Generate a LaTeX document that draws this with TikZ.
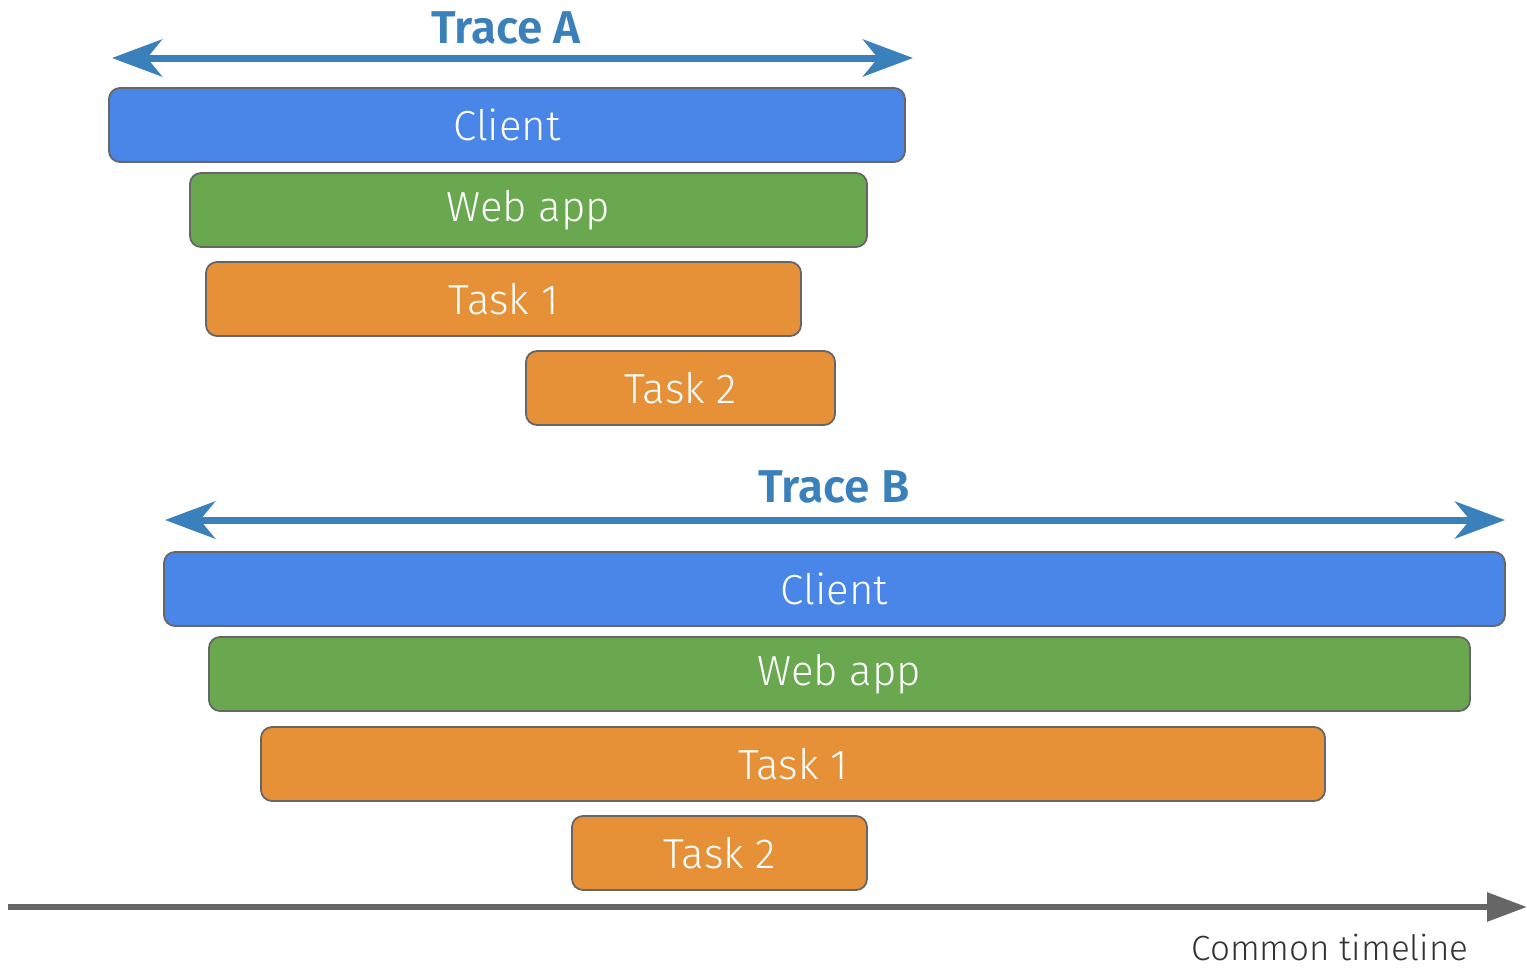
\documentclass[tikz,border=0pt]{standalone}
\usepackage{fontspec}
\setmainfont{Fira Sans Light}[BoldFont={Fira Sans SemiBold}]
\usetikzlibrary{arrows.meta}
\definecolor{clientblue}{HTML}{4A86E8}
\definecolor{webgreen}{HTML}{6AA84F}
\definecolor{taskorange}{HTML}{E69138}
\definecolor{traceblue}{HTML}{3A80BA}
\definecolor{edgegray}{HTML}{666666}
\tikzset{
  span/.style={draw=edgegray, line width=1.8pt, rounded corners=11pt,
    anchor=north west, inner sep=0pt, outer sep=0pt,
    minimum height=74pt},
  spanlabel/.style={text=white, font=\fontsize{42}{48}\selectfont},
  tracearrow/.style={traceblue, line width=7pt,
    {Stealth[length=50pt,width=37pt,inset=15pt]}-{Stealth[length=50pt,width=37pt,inset=15pt]}},
  tracetitle/.style={text=traceblue, font=\fontsize{46}{52}\selectfont\bfseries},
  timeline/.style={edgegray, line width=6pt, -{Triangle[length=40pt,width=28pt]}},
}
\begin{document}
\begin{tikzpicture}[x=1pt,y=-1pt]
\useasboundingbox (0,0) rectangle (1527,970);

% Trace A
\node[tracetitle] (titleA) at (506,28) {Trace A};
\coordinate (aL) at (112,58);
\coordinate (aR) at (913,58);
\draw[tracearrow] (aL) -- (aR);
\node[span, fill=clientblue, minimum width=796pt] (clientA) at (109,88) {};
\node[spanlabel] (clientAtxt) at (clientA.center) {Client};
\node[span, fill=webgreen, minimum width=677pt] (webA) at (190,173) {};
\node[spanlabel] (webAtxt) at (webA.center) {Web app};
\node[span, fill=taskorange, minimum width=595pt] (task1A) at (206,262) {};
\node[spanlabel] (task1Atxt) at (task1A.center) {Task 1};
\node[span, fill=taskorange, minimum width=309pt] (task2A) at (526,351) {};
\node[spanlabel] (task2Atxt) at (task2A.center) {Task 2};

% Trace B
\node[tracetitle] (titleB) at (834,487) {Trace B};
\coordinate (bL) at (165,520);
\coordinate (bR) at (1505,520);
\draw[tracearrow] (bL) -- (bR);
\node[span, fill=clientblue, minimum width=1341pt] (clientB) at (164,552) {};
\node[spanlabel] (clientBtxt) at (clientB.center) {Client};
\node[span, fill=webgreen, minimum width=1261pt] (webB) at (209,637) {};
\node[spanlabel] (webBtxt) at (webB.center) {Web app};
\node[span, fill=taskorange, minimum width=1064pt] (task1B) at (261,727) {};
\node[spanlabel] (task1Btxt) at (task1B.center) {Task 1};
\node[span, fill=taskorange, minimum width=295pt] (task2B) at (572,816) {};
\node[spanlabel] (task2Btxt) at (task2B.center) {Task 2};

% Common timeline
\coordinate (tL) at (8,907);
\coordinate (tR) at (1527,907);
\draw[timeline] (tL) -- (tR);
\node[text=black!80, font=\fontsize{35}{42}\selectfont, anchor=east] (tlabel) at (1472,948) {Common timeline};
\end{tikzpicture}
\end{document}
